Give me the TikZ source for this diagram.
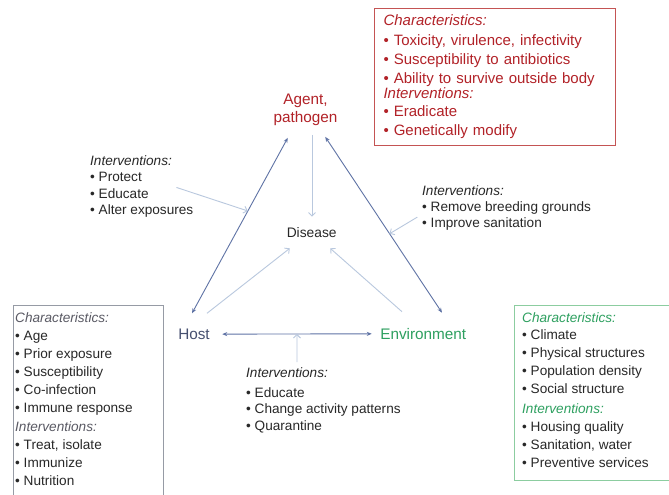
\documentclass[tikz,border=0pt]{standalone}
\usepackage{fontspec}
\setmainfont{Liberation Sans}
\usetikzlibrary{arrows.meta,calc}

\definecolor{agentred}{RGB}{178,34,40}
\definecolor{agentframe}{RGB}{196,84,84}
\definecolor{envgreen}{RGB}{46,160,96}
\definecolor{envframe}{RGB}{140,205,160}
\definecolor{hostframe}{RGB}{150,155,165}
\definecolor{hosttext}{RGB}{70,80,112}
\definecolor{headgray}{RGB}{90,90,100}
\definecolor{bodytext}{RGB}{40,40,40}
\definecolor{darklink}{RGB}{95,115,165}
\definecolor{lightlink}{RGB}{185,200,222}

\newcommand{\itm}{\textbullet\ }

\tikzset{
  vertex/.style = {font=\fontsize{15.3}{17.7}\selectfont, inner sep=0pt},
  blurb/.style  = {font=\fontsize{13.6}{#1}\selectfont, text=bodytext,
                   align=left, inner sep=0pt, anchor=north west},
  blurb/.default = 17,
  bond/.style   = {draw=darklink, line width=0.9pt,
                   {Stealth[length=5pt,width=4pt]}-{Stealth[length=5pt,width=4pt]}},
  cause/.style  = {draw=lightlink, line width=0.9pt,
                   -{Straight Barb[length=3.5pt,width=7pt]}}
}

\begin{document}
\begin{tikzpicture}[x=1pt,y=-1pt]
	\useasboundingbox (0,0) rectangle (669,495);
	\fill[white] (0,0) rectangle (669,495);

	% Corners of the triangle
	\node[vertex, text=agentred, align=center, anchor=north] (agent) at (305.5,94) {Agent,\\pathogen};
	\node[vertex, text=hosttext, anchor=base] (host) at (194,339.3) {Host};
	\node[vertex, text=envgreen, anchor=base] (env) at (423.3,339.3) {Environment};
	\node[font=\fontsize{13.8}{16}\selectfont, text=bodytext, inner sep=0pt, anchor=base] (disease) at (311.7,237.3) {Disease};

	% Links between the corners
	\draw[bond] ($(agent.south west)+(14.4,12)$) -- coordinate[pos=0.417] (ahmid) ($(host.north)+(-2,-15.3)$);
	\draw[bond] ($(agent.south east)+(-12.4,11)$) -- coordinate[pos=0.551] (aemid) ($(env.north)+(18.7,-15.3)$);
	\draw[bond] ($(host.east)+(12.3,0)$) -- coordinate[pos=0.5] (hemid) ($(env.west)+(-8.4,0)$);

	% Towards disease
	\draw[cause] ($(agent.south)+(6.5,9)$) -- ($(disease.north)+(0.3,-10.4)$);
	\draw[cause] ($(host.north)+(13,-15.3)$) -- ($(disease.south west)+(3.2,10.7)$);
	\draw[cause] ($(env.north)+(-21.3,-16.3)$) -- ($(disease.south east)+(-6.6,10.7)$);

	% Agent box
	\node[font=\fontsize{15}{19}\selectfont, text=agentred, draw=agentframe, line width=1pt,
	      text width=223pt, align=left, inner xsep=9pt, inner ysep=6.3pt, anchor=north west] (agentbox) at (374,8)
	  {\textit{Characteristics:}\\[1pt]
	   \itm Toxicity, virulence, infectivity\\
	   \itm Susceptibility to antibiotics\\
	   \itm Ability to survive outside body\\[-2.5pt]
	   \kern-2pt\textit{Interventions:}\\[-0.5pt]
	   \itm Eradicate\\
	   \itm Genetically modify};

	% Host box
	\draw[hostframe, line width=1pt] (13,495) |- (163,305) -- (163,495);
	\node[blurb=18] (hostbox) at (15,312)
	  {\textcolor{headgray}{\textit{Characteristics:}}\\
	   \itm Age\\
	   \itm Prior exposure\\
	   \itm Susceptibility\\
	   \itm Co-infection\\
	   \itm Immune response\\[1pt]
	   \textcolor{headgray}{\textit{Interventions:}}\\
	   \itm Treat, isolate\\
	   \itm Immunize\\
	   \itm Nutrition};

	% Environment box
	\draw[envframe, line width=1pt] (669,305) -| (514,480) -- (669,480);
	\node[blurb=17.75] (envbox) at (522,312)
	  {\textcolor{envgreen}{\textit{Characteristics:}}\\
	   \itm Climate\\
	   \itm Physical structures\\
	   \itm Population density\\
	   \itm Social structure\\[3pt]
	   \textcolor{envgreen}{\textit{Interventions:}}\\
	   \itm Housing quality\\
	   \itm Sanitation, water\\
	   \itm Preventive services};

	% Free interventions
	\node[blurb=16.4] (protect) at (90,155.3)
	  {\textit{Interventions:}\\
	   \itm Protect\\
	   \itm Educate\\
	   \itm Alter exposures};
	\node[blurb=15.9] (remedy) at (422,185.3)
	  {\textit{Interventions:}\\
	   \itm Remove breeding grounds\\
	   \itm Improve sanitation};
	\node[blurb=16.8] (contact) at (246,367)
	  {\textit{Interventions:}\\[3.2pt]
	   \itm Educate\\
	   \itm Change activity patterns\\
	   \itm Quarantine};

	\draw[cause] ($(protect.east)+(-17,1)$) -- (ahmid);
	\draw[cause] ($(remedy.west)+(-4.7,9.4)$) -- (aemid);
	\draw[cause] ($(contact.north west)+(51,-5)$) -- (hemid);
\end{tikzpicture}
\end{document}
